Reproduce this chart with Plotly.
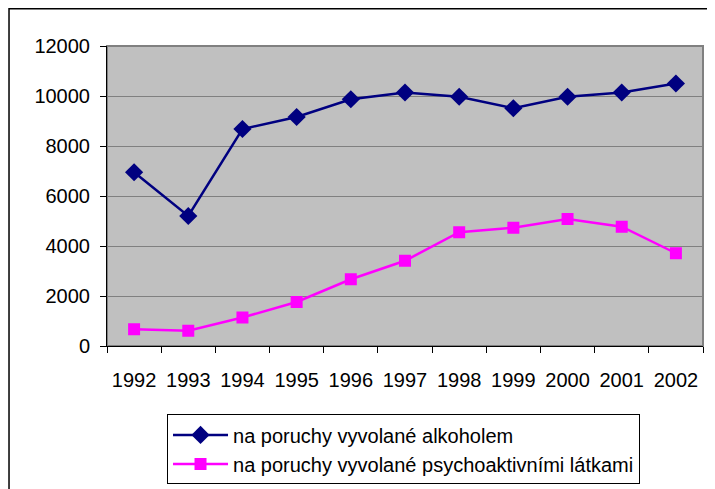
import plotly.graph_objects as go

years = ["1992", "1993", "1994", "1995", "1996", "1997", "1998", "1999", "2000", "2001", "2002"]
alkohol = [6950, 5200, 8680, 9160, 9870, 10140, 9970, 9510, 9970, 10140, 10500]
psycho = [670, 610, 1140, 1760, 2670, 3410, 4550, 4730, 5080, 4770, 3710]

name_alk = "na poruchy vyvolané alkoholem"
name_psy = "na poruchy vyvolané psychoaktivními látkami"

FONT = "Liberation Sans, Arial, sans-serif"

fig = go.Figure()
fig.add_trace(go.Scatter(
    x=years, y=alkohol, name=name_alk, mode="lines+markers",
    line=dict(color="#000080", width=2.5),
    marker=dict(symbol="diamond", size=14, color="#000080"),
))
fig.add_trace(go.Scatter(
    x=years, y=psycho, name=name_psy, mode="lines+markers",
    line=dict(color="#FF00FF", width=2.5),
    marker=dict(symbol="square", size=12, color="#FF00FF"),
))

# outer chart frame (runs off the right/bottom edge like the original)
fig.add_shape(type="rect", xref="paper", yref="paper",
              x0=-0.1644, x1=1.06, y0=-0.55, y1=1.124,
              line=dict(color="black", width=1.5), fillcolor="rgba(0,0,0,0)",
              layer="below")

# the page body adds an 8px offset, margins compensate for it
fig.update_layout(
    width=715, height=489,
    margin=dict(l=99, r=20, t=38, b=151),
    paper_bgcolor="white",
    plot_bgcolor="#C0C0C0",
    font=dict(family=FONT, size=20, color="black"),
    showlegend=True,
    legend=dict(
        x=0.1007, y=-0.228, xanchor="left", yanchor="top",
        bgcolor="white", bordercolor="black", borderwidth=1,
        font=dict(size=20), tracegroupgap=0, itemwidth=55,
    ),
    xaxis=dict(
        type="category", showgrid=False, zeroline=False,
        ticks="outside", tickson="boundaries", ticklen=6, tickcolor="black",
        showline=True, linecolor="black", linewidth=1,
        ticklabelstandoff=16,
        range=[-0.5, 10.5],
    ),
    yaxis=dict(
        range=[0, 12000], dtick=2000, tickformat="d",
        showgrid=True, gridcolor="#808080", gridwidth=1,
        zeroline=False, ticks="outside", ticklen=6, tickcolor="black",
        showline=True, linecolor="black", linewidth=1,
        ticklabelstandoff=6,
    ),
)

# gray border round the plot area
fig.add_shape(type="rect", xref="paper", yref="paper", x0=0, x1=1, y0=0, y1=1,
              line=dict(color="#808080", width=2), layer="below")

fig.write_html("out.html")
